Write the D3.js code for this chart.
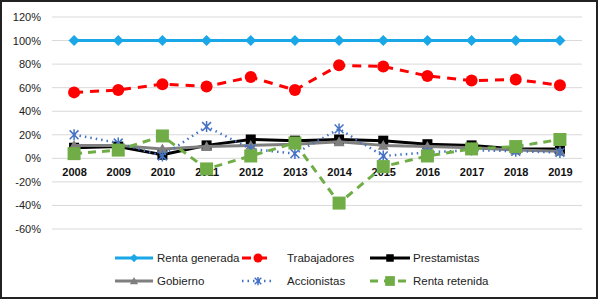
<!DOCTYPE html>
<html>
<head>
<meta charset="utf-8">
<script src="https://cdn.jsdelivr.net/npm/d3@7"></script>
<style>
  body { margin: 0; background: #fff; }
  svg { display: block; font-family: "Liberation Sans", Arial, sans-serif; }
</style>
</head>
<body>
<div id="chart"></div>
<script>
const years = ["2008", "2009", "2010", "2011", "2012", "2013", "2014", "2015", "2016", "2017", "2018", "2019"];
const yTicks = [120, 100, 80, 60, 40, 20, 0, -20, -40, -60];

const rentaGenerada = [100, 100, 100, 100, 100, 100, 100, 100, 100, 100, 100, 100];
const trabajadores = [56, 58, 63, 61, 69, 58, 79, 78, 70, 66, 67, 62];
const prestamistas = [9, 10, 3, 11, 16, 15, 16, 15, 12, 11, 8, 8];
const gobierno = [11, 11, 8, 10, 11, 12, 14, 11, 10, 9, 7, 6];
const accionistas = [20, 13, 2, 27, 8, 4, 25, 2, 5, 7, 6, 5];
const rentaRetenida = [4, 7, 19, -9, 2, 13, -38, -7, 2, 8, 10, 16];

const series = [
  { name: "Renta generada", values: rentaGenerada, color: "#1aa7e8", dash: null, width: 3, marker: "diamond", size: 11 },
  { name: "Trabajadores", values: trabajadores, color: "#ff0000", dash: "9,7", width: 3, marker: "circle", size: 12 },
  { name: "Prestamistas", values: prestamistas, color: "#000000", dash: null, width: 3, marker: "square", size: 10 },
  { name: "Gobierno", values: gobierno, color: "#7f7f7f", dash: null, width: 3, marker: "triangle", size: 11 },
  { name: "Accionistas", values: accionistas, color: "#4472c4", dash: "1.5,4", width: 2.5, marker: "star", size: 11 },
  { name: "Renta retenida", values: rentaRetenida, color: "#70ad47", dash: "8,6", width: 3, marker: "square", size: 13 }
];

const width = 600, height = 303;
const plotLeft = 52, plotRight = 582, plotTop = 17, plotBottom = 229;

const svg = d3.select("#chart").append("svg")
  .attr("width", width)
  .attr("height", height);

svg.append("rect")
  .attr("x", 1).attr("y", 1)
  .attr("width", 596).attr("height", 297)
  .attr("fill", "#fff")
  .attr("stroke", "#222")
  .attr("stroke-width", 2);

const x = d3.scalePoint().domain(years).range([plotLeft, plotRight]).padding(0.5);
const y = d3.scaleLinear().domain([-60, 120]).range([plotBottom, plotTop]);

// gridlines
svg.append("g")
  .selectAll("line")
  .data(yTicks)
  .join("line")
  .attr("x1", plotLeft).attr("x2", plotRight)
  .attr("y1", d => y(d)).attr("y2", d => y(d))
  .attr("stroke", "#d9d9d9")
  .attr("stroke-width", 1);

// y axis labels
const yAxis = svg.append("g")
  .attr("transform", `translate(${plotLeft - 11},0)`)
  .call(d3.axisLeft(y).tickValues(yTicks).tickFormat(d => d + "%").tickSize(0).tickPadding(0));
yAxis.select(".domain").remove();
yAxis.selectAll("text")
  .attr("font-family", "Liberation Sans, Arial, sans-serif")
  .attr("font-size", 11)
  .attr("fill", "#222");

// x axis labels next to the 0 line
const xAxis = svg.append("g")
  .attr("transform", `translate(0,${y(0) + 10})`)
  .call(d3.axisBottom(x).tickSize(0).tickPadding(0));
xAxis.select(".domain").remove();
xAxis.selectAll("text")
  .attr("font-family", "Liberation Sans, Arial, sans-serif")
  .attr("font-size", 11)
  .attr("font-weight", "bold")
  .attr("fill", "#111");

function markerPath(type, s) {
  const h = s / 2;
  if (type === "diamond") return `M0,${-h}L${h},0L0,${h}L${-h},0Z`;
  if (type === "square") return `M${-h},${-h}H${h}V${h}H${-h}Z`;
  if (type === "triangle") return `M0,${-h}L${h},${h * 0.8}H${-h}Z`;
  if (type === "circle") return d3.symbol(d3.symbolCircle, Math.PI * h * h)();
  if (type === "star") {
    const d = h * 0.8;
    return `M${-d},${-d}L${d},${d}M${-d},${d}L${d},${-d}M0,${-h}V${h}`;
  }
}

function drawMarker(g, s, cx, cy, scale) {
  const p = g.append("path")
    .attr("transform", `translate(${cx},${cy})`)
    .attr("d", markerPath(s.marker, s.size * scale));
  if (s.marker === "star") {
    p.attr("fill", "none").attr("stroke", s.color).attr("stroke-width", 1.5);
  } else {
    p.attr("fill", s.color);
  }
}

const line = d3.line().x((d, i) => x(years[i])).y(d => y(d));

series.forEach(s => {
  const g = svg.append("g");
  g.append("path")
    .datum(s.values)
    .attr("d", line)
    .attr("fill", "none")
    .attr("stroke", s.color)
    .attr("stroke-width", s.width)
    .attr("stroke-dasharray", s.dash)
    .attr("stroke-linejoin", "round");
  s.values.forEach((v, i) => drawMarker(g, s, x(years[i]), y(v), 1));
});

// legend
const legendCols = [
  { x1: 115, x2: 153, tx: 157 },
  { x1: 242, x2: 274, tx: 287 },
  { x1: 370, x2: 410, tx: 413 }
];
const legendRows = [258, 281];

series.forEach((s, i) => {
  const col = legendCols[i % 3];
  const ly = legendRows[Math.floor(i / 3)];
  const g = svg.append("g");
  g.append("line")
    .attr("x1", col.x1).attr("x2", col.x2)
    .attr("y1", ly).attr("y2", ly)
    .attr("stroke", s.color)
    .attr("stroke-width", s.width)
    .attr("stroke-dasharray", s.dash);
  drawMarker(g, s, (col.x1 + col.x2) / 2, ly, 0.75);
  g.append("text")
    .attr("x", col.tx)
    .attr("y", ly)
    .attr("dy", "0.35em")
    .attr("font-size", 11.5)
    .attr("fill", "#222")
    .text(s.name);
});
</script>
</body>
</html>
